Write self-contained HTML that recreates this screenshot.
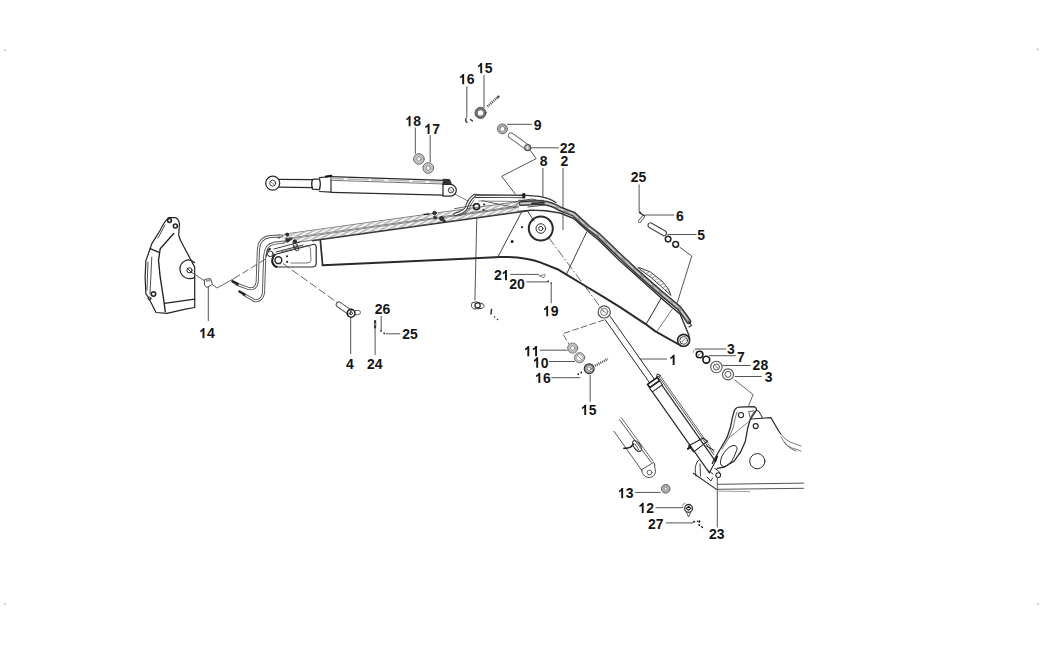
<!DOCTYPE html>
<html><head><meta charset="utf-8"><title>Boom parts diagram</title>
<style>
html,body{margin:0;padding:0;background:#fff;width:1044px;height:655px;overflow:hidden}
svg{position:absolute;left:0;top:0;display:block}
text{font-family:"Liberation Sans",sans-serif;font-weight:bold;font-size:14.5px;fill:#151515}
.d1{fill:#151515;stroke:none}
</style></head><body>
<svg width="1044" height="655" viewBox="0 0 1044 655">
<rect x="0" y="0" width="1044" height="655" fill="#fff"/>

<g fill="#d8d8d8" stroke="none">
<circle cx="5" cy="50" r="1.3"/><circle cx="1037.5" cy="49.5" r="1.3"/>
<circle cx="5" cy="604" r="1.3"/><circle cx="1038" cy="604" r="1.3"/>
</g>

<!-- ===== LABELS ===== -->
<g id="labels">
<path class="d1" d="M480.25 73.30L482.15 73.30L482.15 62.99L480.65 62.99Q480.00 64.81 477.95 65.64L477.95 67.34Q479.40 66.83 480.25 66.05Z"/>
<text x="484.78" y="73.30" transform="translate(484.78 0) scale(0.965 1) translate(-484.78 0)">5</text>
<path class="d1" d="M462.25 84.30L464.15 84.30L464.15 73.99L462.65 73.99Q462.00 75.81 459.95 76.64L459.95 78.34Q461.40 77.83 462.25 77.05Z"/>
<text x="466.78" y="84.30" transform="translate(466.78 0) scale(0.965 1) translate(-466.78 0)">6</text>
<path class="d1" d="M408.65 126.30L410.55 126.30L410.55 115.99L409.05 115.99Q408.40 117.81 406.35 118.64L406.35 120.34Q407.80 119.83 408.65 119.05Z"/>
<text x="413.18" y="126.30" transform="translate(413.18 0) scale(0.965 1) translate(-413.18 0)">8</text>
<path class="d1" d="M427.65 133.95L429.55 133.95L429.55 123.64L428.05 123.64Q427.40 125.46 425.35 126.29L425.35 127.99Q426.80 127.48 427.65 126.70Z"/>
<text x="432.18" y="133.95" transform="translate(432.18 0) scale(0.965 1) translate(-432.18 0)">7</text>
<text x="533.85" y="130.25" transform="translate(533.85 0) scale(0.965 1) translate(-533.85 0)">9</text>
<text x="559.65" y="153.35" transform="translate(559.65 0) scale(0.965 1) translate(-559.65 0)">2</text>
<text x="567.43" y="153.35" transform="translate(567.43 0) scale(0.965 1) translate(-567.43 0)">2</text>
<text x="539.75" y="166.10" transform="translate(539.75 0) scale(0.965 1) translate(-539.75 0)">8</text>
<text x="560.60" y="166.10" transform="translate(560.60 0) scale(0.965 1) translate(-560.60 0)">2</text>
<text x="630.85" y="181.60" transform="translate(630.85 0) scale(0.965 1) translate(-630.85 0)">2</text>
<text x="638.63" y="181.60" transform="translate(638.63 0) scale(0.965 1) translate(-638.63 0)">5</text>
<text x="676.00" y="221.30" transform="translate(676.00 0) scale(0.965 1) translate(-676.00 0)">6</text>
<text x="697.20" y="240.10" transform="translate(697.20 0) scale(0.965 1) translate(-697.20 0)">5</text>
<text x="494.00" y="280.30" transform="translate(494.00 0) scale(0.965 1) translate(-494.00 0)">2</text>
<path class="d1" d="M505.03 280.30L506.93 280.30L506.93 269.99L505.43 269.99Q504.78 271.81 502.73 272.64L502.73 274.34Q504.18 273.83 505.03 273.05Z"/>
<text x="509.20" y="288.85" transform="translate(509.20 0) scale(0.965 1) translate(-509.20 0)">2</text>
<text x="516.98" y="288.85" transform="translate(516.98 0) scale(0.965 1) translate(-516.98 0)">0</text>
<path class="d1" d="M546.25 316.30L548.15 316.30L548.15 305.99L546.65 305.99Q546.00 307.81 543.95 308.64L543.95 310.34Q545.40 309.83 546.25 309.05Z"/>
<text x="550.78" y="316.30" transform="translate(550.78 0) scale(0.965 1) translate(-550.78 0)">9</text>
<path class="d1" d="M202.55 338.30L204.45 338.30L204.45 327.99L202.95 327.99Q202.30 329.81 200.25 330.64L200.25 332.34Q201.70 331.83 202.55 331.05Z"/>
<text x="207.08" y="338.30" transform="translate(207.08 0) scale(0.965 1) translate(-207.08 0)">4</text>
<text x="374.75" y="314.30" transform="translate(374.75 0) scale(0.965 1) translate(-374.75 0)">2</text>
<text x="382.53" y="314.30" transform="translate(382.53 0) scale(0.965 1) translate(-382.53 0)">6</text>
<text x="402.20" y="339.30" transform="translate(402.20 0) scale(0.965 1) translate(-402.20 0)">2</text>
<text x="409.98" y="339.30" transform="translate(409.98 0) scale(0.965 1) translate(-409.98 0)">5</text>
<text x="346.00" y="369.30" transform="translate(346.00 0) scale(0.965 1) translate(-346.00 0)">4</text>
<text x="367.00" y="369.30" transform="translate(367.00 0) scale(0.965 1) translate(-367.00 0)">2</text>
<text x="374.78" y="369.30" transform="translate(374.78 0) scale(0.965 1) translate(-374.78 0)">4</text>
<path class="d1" d="M527.35 356.25L529.25 356.25L529.25 345.94L527.75 345.94Q527.10 347.76 525.05 348.59L525.05 350.29Q526.50 349.78 527.35 349.00Z"/>
<path class="d1" d="M535.13 356.25L537.03 356.25L537.03 345.94L535.53 345.94Q534.88 347.76 532.83 348.59L532.83 350.29Q534.28 349.78 535.13 349.00Z"/>
<path class="d1" d="M536.25 367.65L538.15 367.65L538.15 357.34L536.65 357.34Q536.00 359.16 533.95 359.99L533.95 361.69Q535.40 361.18 536.25 360.40Z"/>
<text x="540.78" y="367.65" transform="translate(540.78 0) scale(0.965 1) translate(-540.78 0)">0</text>
<path class="d1" d="M538.40 382.95L540.30 382.95L540.30 372.64L538.80 372.64Q538.15 374.46 536.10 375.29L536.10 376.99Q537.55 376.48 538.40 375.70Z"/>
<text x="542.93" y="382.95" transform="translate(542.93 0) scale(0.965 1) translate(-542.93 0)">6</text>
<path class="d1" d="M672.70 365.10L674.60 365.10L674.60 354.79L673.10 354.79Q672.45 356.61 670.40 357.44L670.40 359.14Q671.85 358.63 672.70 357.85Z"/>
<text x="727.00" y="354.00" transform="translate(727.00 0) scale(0.965 1) translate(-727.00 0)">3</text>
<text x="736.95" y="362.30" transform="translate(736.95 0) scale(0.965 1) translate(-736.95 0)">7</text>
<text x="752.60" y="370.30" transform="translate(752.60 0) scale(0.965 1) translate(-752.60 0)">2</text>
<text x="760.38" y="370.30" transform="translate(760.38 0) scale(0.965 1) translate(-760.38 0)">8</text>
<text x="764.80" y="381.90" transform="translate(764.80 0) scale(0.965 1) translate(-764.80 0)">3</text>
<path class="d1" d="M584.25 415.00L586.15 415.00L586.15 404.69L584.65 404.69Q584.00 406.51 581.95 407.34L581.95 409.04Q583.40 408.53 584.25 407.75Z"/>
<text x="588.78" y="415.00" transform="translate(588.78 0) scale(0.965 1) translate(-588.78 0)">5</text>
<path class="d1" d="M621.25 498.30L623.15 498.30L623.15 487.99L621.65 487.99Q621.00 489.81 618.95 490.64L618.95 492.34Q620.40 491.83 621.25 491.05Z"/>
<text x="625.78" y="498.30" transform="translate(625.78 0) scale(0.965 1) translate(-625.78 0)">3</text>
<path class="d1" d="M641.75 512.95L643.65 512.95L643.65 502.64L642.15 502.64Q641.50 504.46 639.45 505.29L639.45 506.99Q640.90 506.48 641.75 505.70Z"/>
<text x="646.28" y="512.95" transform="translate(646.28 0) scale(0.965 1) translate(-646.28 0)">2</text>
<text x="648.00" y="529.30" transform="translate(648.00 0) scale(0.965 1) translate(-648.00 0)">2</text>
<text x="655.78" y="529.30" transform="translate(655.78 0) scale(0.965 1) translate(-655.78 0)">7</text>
<text x="709.00" y="539.30" transform="translate(709.00 0) scale(0.965 1) translate(-709.00 0)">2</text>
<text x="716.78" y="539.30" transform="translate(716.78 0) scale(0.965 1) translate(-716.78 0)">3</text>
</g>

<!-- ===== LEADERS ===== -->
<g id="leaders" stroke="#555" stroke-width="1" fill="none">
<path d="M484 75V108"/>
<path d="M466.8 86.5V118"/>
<path d="M415.3 127.5V154"/>
<path d="M430.2 135V162"/>
<path d="M507 124.3H532"/>
<path d="M530.3 147.8H558.8"/>
<path d="M542.9 168V197"/>
<path d="M563 168V230"/>
<path d="M530.3 150.3L536.1 158.7L501.7 176.3L515.2 194"/>
<path d="M639.1 184.4V212"/>
<path d="M644.4 215H674.2"/>
<path d="M667.3 234.5H696.3"/>
<path d="M679.5 247L691.8 256L677 303.5"/>
<path d="M510.2 274.4H539"/>
<path d="M526.3 281.9H547.7"/>
<path d="M551.2 283V303.3"/>
<path d="M477 209.5L474.9 300.5"/>
<path d="M208.3 286V321"/>
<path d="M350.7 318V354"/>
<path d="M375.1 327.6V355"/>
<path d="M381.2 316V330"/>
<path d="M386 333.8H400.4"/>
<path d="M539.8 350.2H567.3"/>
<path d="M549 361.5H575"/>
<path d="M551.3 377.7H580.3"/>
<path d="M590.2 375V401.7"/>
<path d="M639.5 359H667"/>
<path d="M695 349H726.2"/>
<path d="M709 355.7H736"/>
<path d="M722.6 365.5H750.7"/>
<path d="M734.8 376.5H761.7"/>
<path d="M634.9 492.4H660.6"/>
<path d="M655.5 507.7H683.3"/>
<path d="M665.8 522.9H693.6"/>
<path d="M717.3 478V527.4"/>
</g>

<!-- ===== BOOM ===== -->
<g id="boom" stroke="#2a2a2a" stroke-width="1.2" fill="none" stroke-linejoin="round" stroke-linecap="round">
<!-- bottom edge -->
<path d="M322.6 265.3L400 261.8L470 258.4L500 256.9Q525 256.6 540.2 262.4L557.5 269.2L569 276.1L586.2 286.5L603.4 296.8L620 307.2L646 324.3L655 331.1L680.6 345.5" stroke-width="2"/>
<!-- top pipe bundle -->
<path d="M521 203.5L541 202.5Q552 203.5 560 208.9L573.7 214.2L587.5 227L598.5 235.3L620 256L636 271L661 293L679 308L685 316L688.7 321.5" stroke="#333" stroke-width="5.2"/>
<path d="M521 203.5L541 202.5Q552 203.5 560 208.9L573.7 214.2L587.5 227L598.5 235.3L620 256L636 271L661 293L679 308L685 316L688.7 321.5" stroke="#9a9a9a" stroke-width="2.6"/>
<path d="M521 203.5L541 202.5Q552 203.5 560 208.9L573.7 214.2L587.5 227L598.5 235.3L620 256L636 271L661 293L679 308L685 316L688.7 321.5" stroke="#fff" stroke-width="0.8" stroke-dasharray="10 4 5 6" opacity="0.9"/>
<path d="M476 194.8L523 195.1L539 196.4Q549 198 556 202.5" stroke="#333" stroke-width="1.1"/>
<path d="M500 213.8L530.5 210.1L545.8 210.7L560 213L573.7 218.5L587.5 231L598.5 240L620 261L661.2 298.1L680.2 314.3L688.6 334.5L689.6 339" stroke="#333" stroke-width="1.4"/>
<path d="M688.7 321.5L691.5 325.5L689 327" stroke-width="1.1"/>
<!-- hose clamp bump -->
<path d="M638.5 267.5Q645 269.5 650.5 272L662 281L668.5 289L671 295.5L664.5 289.5L651 277.5L640 269.5Z" fill="url(#hatch)" stroke="#444" stroke-width="1"/>
<!-- tip end -->
<path d="M320.3 240L322.6 265" stroke-width="1.7"/>
<!-- section lines -->
<path d="M586.7 232L566.7 273.7" stroke-width="0.9"/>
<path d="M646.1 324.2L661.2 298.1" stroke-width="1"/>
<path d="M657.1 331.1L672.2 309.1" stroke="#555" stroke-width="0.8"/>
<path d="M498.2 256.3L522 211.3" stroke-width="0.9"/>
<!-- foot eye -->
<circle cx="683.6" cy="340.4" r="6" stroke-width="1.6"/>
<circle cx="683.6" cy="340.4" r="3.8" stroke-width="0.9"/>
<path d="M682 342L685 338.5" stroke="#444" stroke-width="0.8"/>
<!-- big boss -->
<circle cx="540.8" cy="228.5" r="12" stroke-width="2"/>
<circle cx="540.8" cy="228.5" r="4.8" stroke-width="1"/>
<circle cx="540.8" cy="228.5" r="2.1" stroke-width="0.9"/>
<path d="M528.1 212L534.2 221.1" stroke-width="0.9"/>
<circle cx="522" cy="227.2" r="1.1" fill="#222" stroke="none"/>
<circle cx="512.1" cy="241.6" r="1.5" fill="#222" stroke="none"/>
</g>
<!-- dash-dot line big boss -> cylinder eye -->
<path d="M549 238L604 312" stroke="#555" stroke-width="0.9" fill="none" stroke-dasharray="9 2 2 2"/>

<!-- hose band on top of boom -->
<defs>
<pattern id="hatch" width="3.4" height="3.4" patternUnits="userSpaceOnUse" patternTransform="rotate(62)">
<line x1="0.8" y1="0" x2="0.8" y2="3.4" stroke="#959595" stroke-width="1"/>
</pattern>
</defs>
<g id="band" fill="none" stroke-linecap="butt">
<path d="M284 236.4L519 203.8" stroke="#777" stroke-width="5.4"/>
<path d="M284 236.4L519 203.8" stroke="#f6f6f6" stroke-width="3.6"/>
<path d="M284 236.4L519 203.8" stroke="url(#hatch)" stroke-width="3.6"/>
<path d="M292 240.8L519 209.3" stroke="#777" stroke-width="5.4"/>
<path d="M292 240.8L519 209.3" stroke="#f6f6f6" stroke-width="3.6"/>
<path d="M292 240.8L519 209.3" stroke="url(#hatch)" stroke-width="3.6"/>
<path d="M312 240.9L530 210.6" stroke="#333" stroke-width="1.1"/>
<path d="M518.3 200.3L544 200.3" stroke="#444" stroke-width="0.9"/>
<path d="M520 201.5L514 207.7" stroke="#555" stroke-width="0.9"/>
</g>

<!-- ===== UPPER CYLINDER ===== -->
<g id="cyl2" stroke="#2a2a2a" stroke-width="1.25" fill="none" stroke-linejoin="round" stroke-linecap="round">
<circle cx="272.7" cy="183.2" r="7" />
<circle cx="272.7" cy="183.2" r="3" stroke-width="0.9"/>
<path d="M270.5 181.5L274.5 185" stroke="#555" stroke-width="0.7"/>
<path d="M278.8 179.4L312.5 179.6M278.8 187.2L312.5 187.6"/>
<path d="M312.5 179.3Q310.8 184 312.5 189.2M319.5 178.9Q321.2 184 319.5 189.6M312.5 179.3L319.5 178.9M312.5 189.2L319.5 189.6" stroke-width="1.3"/>
<path d="M319.5 177.6L331 176.5L331 192.2L319.5 191.5" stroke-width="1.2"/>
<path d="M326 176.4L331.4 175.8" stroke="#111" stroke-width="2"/>
<path d="M331 176.6L444 180.4" stroke-width="1.2"/>
<path d="M331 180.3L444 184" stroke="#666" stroke-width="0.9"/>
<path d="M331 178.5L444 182.2" stroke="#bbb" stroke-width="1.6" stroke-dasharray="12 5 20 4"/>
<path d="M331 192.3L443 195.2" stroke-width="1.2"/>
<path d="M443 183.3L443 195.5"/>
<path d="M443 184.4L450.5 184.4A5.8 5.8 0 0 1 450.5 196L443 196"/>
<circle cx="450.9" cy="190.2" r="2.7" stroke-width="0.9"/>
<path d="M449.5 189L452 191.5" stroke="#555" stroke-width="0.7"/>
<path d="M443.5 179.2L449.5 179.6L451.3 183.5L444 184.3Z" fill="#333" stroke-width="1"/>
<path d="M455.5 194.5L470 202" stroke="#555" stroke-width="0.8"/>
</g>

<!-- arm-side mount with S pipe on top of boom -->
<g id="mount" stroke="#2a2a2a" stroke-width="1.1" fill="none" stroke-linejoin="round" stroke-linecap="round">
<path d="M455 214.5Q463 212.5 466 208.5Q468.5 201 471.5 198L474.5 195.5L477 195.5" stroke="#333" stroke-width="3.4"/>
<path d="M455 214.5Q463 212.5 466 208.5Q468.5 201 471.5 198L474.5 195.5L477 195.5" stroke="#fff" stroke-width="1.3"/>
<path d="M458 216Q466 214 469 209.5Q471 203 474 200" stroke="#555" stroke-width="0.9"/>
<path d="M476 196.3L523 196.6" stroke="#333" stroke-width="3.2"/>
<path d="M476 196.3L523 196.6" stroke="#f4f4f4" stroke-width="1.3"/>
<path d="M482 200.7L515.4 207.6" stroke="#555" stroke-width="0.9"/>
<path d="M454.5 208.7L475 205" stroke="#555" stroke-width="0.9"/>
<circle cx="476.5" cy="206.6" r="3" stroke-width="1.7"/>
<circle cx="484.2" cy="204.5" r="1.1" fill="#222" stroke="none"/>
<circle cx="483.5" cy="210" r="1.1" fill="#222" stroke="none"/>
<path d="M479 201L517 201.5" stroke="#666" stroke-width="0.8"/>
<path d="M523 193.5L525 193.5L525 198L523 198Z" fill="#222" stroke-width="0.8"/>
<path d="M515 202L519 201L532 199L540 201L545 205L528 207" stroke="#444" stroke-width="0.9"/>
<path d="M532 203.5L544 202.5" stroke-width="1.5"/>
<!-- clamps on band -->
<circle cx="434.5" cy="213" r="1.8" fill="#333" stroke="#222" stroke-width="0.8"/>
<circle cx="441.5" cy="218.5" r="2" fill="#333" stroke="#222" stroke-width="0.8"/>
<circle cx="435" cy="217.5" r="1.5" fill="#444" stroke="#222" stroke-width="0.7"/>
<circle cx="444" cy="221" r="1.3" fill="#444" stroke="#222" stroke-width="0.7"/>
<path d="M424 214.5L429 214" stroke-width="1.4"/>
</g>

<!-- ===== ARM END PLATE (left tip) ===== -->
<g id="tip" stroke="#2a2a2a" stroke-width="1.1" fill="none" stroke-linejoin="round" stroke-linecap="round">
<path d="M272.5 261A7 7 0 0 1 276.5 254L313 244.5Q316 244 316.2 247L316.2 263.5Q316 267 312 267L279 267A7 7 0 0 1 272.5 261Z" stroke-width="1.2"/>
<path d="M281 252L305 246Q310 245 310.5 249L311 260Q311 263 307 263L291 263" stroke="#555" stroke-width="0.8"/>
<circle cx="278.4" cy="260.2" r="3.4" stroke-width="1.5"/>
<path d="M274.5 255Q271.5 258 272.3 262.5Q273.5 266 276.5 267" stroke="#222" stroke-width="2"/>
<circle cx="287" cy="256.3" r="1.1" fill="#222" stroke="none"/>
<circle cx="287.2" cy="261.8" r="1.1" fill="#222" stroke="none"/>
<circle cx="270.3" cy="253.8" r="2.8" stroke-width="1"/>
<path d="M266 256Q265 250 270 249" stroke-width="2"/>
<path d="M274 249L300 242M276 252L303 245" stroke-width="0.9"/>
<path d="M294 245L296 251L299 250L297 244" stroke-width="0.8"/>
<circle cx="279" cy="236.5" r="1.6" fill="#333" stroke="#222" stroke-width="0.8"/>
<circle cx="287.2" cy="234.6" r="1.5" fill="#333" stroke="#222" stroke-width="0.8"/>
<circle cx="287.5" cy="240.3" r="1.9" fill="#333" stroke="#222" stroke-width="0.8"/>
<circle cx="290.5" cy="239" r="1.3" fill="#444" stroke="#222" stroke-width="0.6"/>
<circle cx="294.8" cy="241.3" r="1.6" fill="#333" stroke="#222" stroke-width="0.8"/>
<path d="M293.5 243.5L296 243L296.5 247.5L294 248Z" stroke="#333" stroke-width="0.8"/>
</g>

<!-- ===== LEFT HOSES ===== -->
<g id="hoses" fill="none" stroke-linecap="round" stroke-linejoin="round">
<path d="M237 284.2L248.8 288.6Q256 290 257.2 282L258.4 250Q259 238 270 236.5L282 236" stroke="#555" stroke-width="3.1"/>
<path d="M237 284.2L248.8 288.6Q256 290 257.2 282L258.4 250Q259 238 270 236.5L282 236" stroke="#fff" stroke-width="1.2"/>
<path d="M244 294.5L255 300.8Q262 301 263.5 293L264.7 257Q265 245 274 243.3L284 242" stroke="#555" stroke-width="3.1"/>
<path d="M244 294.5L255 300.8Q262 301 263.5 293L264.7 257Q265 245 274 243.3L284 242" stroke="#fff" stroke-width="1.2"/>
<path d="M232.5 281.3L237.5 284" stroke="#222" stroke-width="2.6"/>
<path d="M239.5 291.5L244.5 294.5" stroke="#222" stroke-width="2.6"/>
</g>

<!-- ===== LEFT LINK (part near 14) ===== -->
<g id="link" stroke="#222" stroke-width="1.35" fill="none" stroke-linejoin="round" stroke-linecap="round">
<path d="M168.6 217.6Q164 222 160.2 230.2L151.8 243.6L148.4 253.7L145.9 260.4L145.1 277.2L145.9 294L148.4 297.4L155.2 310.8L156 312.5L166.9 313.4L185.4 309.2L194.7 307.5L194.7 267.1L180.4 240.3L178.7 235.2L179.5 223.4Q178 218 175.3 217.6Z" stroke-width="1.2"/>
<path d="M173.7 233.5L160.2 248.7L158.5 260.4L160.2 277.2L163.6 299L165.3 311.7"/>
<path d="M150.1 248.7L158.5 252.2"/>
<path d="M164.4 303.3L194.7 299.1"/>
<path d="M194.5 262.5Q190 258.8 185.5 260.5Q179.5 263.5 180 270Q181 277 188 278.5Q192 279 194.5 277.5" stroke-width="1.2"/>
<circle cx="189.5" cy="270.3" r="2.6" stroke-width="1"/>
<path d="M187 268L192 273" stroke-width="0.8"/>
<circle cx="175.3" cy="226" r="2" stroke-width="1.5"/>
<circle cx="169.5" cy="220.5" r="1.9" stroke-width="1.5"/>
<circle cx="153.5" cy="294" r="2.2" stroke-width="1.5"/>
<circle cx="149.5" cy="298.5" r="1.5" stroke-width="1"/>
<path d="M151.8 257L150 294M148 262L147 290" stroke-width="0.8"/>
<path d="M165 225L158 238" stroke-width="0.8"/>
</g>
<path d="M283 263.5L338 303" stroke="#555" stroke-width="0.9" fill="none" stroke-dasharray="8 3"/>
<!-- link to 14 to tip line -->
<g stroke="#555" stroke-width="0.9" fill="none">
<path d="M192 272.5L204 280.5"/>
<path d="M212.5 284.8L217.1 288L234 278.5"/>
<path d="M234 278.5L268 257.5" stroke-dasharray="7 3"/>
</g>
<!-- nut 14 -->
<g stroke="#555" stroke-width="1" fill="none">
<path d="M204.5 279.5L210.5 278.5L212.5 284.5L206.5 287.5L204.5 285Z"/>
<path d="M206 281L211 280" stroke="#999" stroke-width="2"/>
</g>

<!-- ===== SMALL PARTS ===== -->
<g id="small" stroke="#333" stroke-width="1.1" fill="none" stroke-linejoin="round" stroke-linecap="round">
<!-- 18, 17 nuts -->
<circle cx="418.9" cy="159" r="3.8" stroke="#c4c4c4" stroke-width="2.4"/>
<circle cx="418.9" cy="159" r="5.3" stroke="#555" stroke-width="0.9"/>
<circle cx="418.9" cy="159" r="2.2" stroke="#666" stroke-width="0.8"/>
<circle cx="428.3" cy="168" r="3.8" stroke="#c4c4c4" stroke-width="2.4"/>
<circle cx="428.3" cy="168" r="5.3" stroke="#555" stroke-width="0.9"/>
<circle cx="428.3" cy="168" r="2.2" stroke="#666" stroke-width="0.8"/>
<!-- 15 washer + bolt -->
<circle cx="480.5" cy="112.9" r="4" stroke="#777" stroke-width="2.6"/>
<circle cx="480.5" cy="112.9" r="5.5" stroke="#333" stroke-width="0.9"/>
<path d="M487.4 106.4L498.4 96.8" stroke="#555" stroke-width="2.6" stroke-dasharray="1.1 0.9" stroke-linecap="butt"/>
<circle cx="498.4" cy="96.8" r="1.2" fill="#444" stroke="none"/>
<!-- 16 clip -->
<path d="M466 118.5Q465 121 467 122.5M470.5 119.5L472.5 121" stroke="#222" stroke-width="1.2"/>
<!-- 9 washer -->
<circle cx="502.5" cy="128.9" r="3.8" stroke="#aaa" stroke-width="2.4"/>
<circle cx="502.5" cy="128.9" r="5" stroke="#666" stroke-width="0.9"/>
<circle cx="502.5" cy="128.9" r="2.5" stroke="#777" stroke-width="0.8"/>
<!-- 22 pin -->
<path d="M511 135.5L527.5 147.6" stroke="#666" stroke-width="6.2"/>
<path d="M511 135.5L527.5 147.6" stroke="#fff" stroke-width="4.4"/>
<circle cx="527.7" cy="147.7" r="3" stroke="#555" stroke-width="1.2"/>
<circle cx="527.7" cy="147.7" r="1.6" stroke="#888" stroke-width="0.8"/>
<!-- 6 small pin -->
<path d="M639.5 221.5L643.5 216.5" stroke="#666" stroke-width="3.2"/>
<path d="M639.5 221.5L643.5 216.5" stroke="#fff" stroke-width="1.4"/>
<circle cx="640" cy="212.6" r="1" fill="#222" stroke="none"/>
<path d="M640 213L644 215.5" stroke="#222" stroke-width="1.2"/>
<!-- 5 pin + rings -->
<path d="M650.5 225.3L664 233.2" stroke="#444" stroke-width="6"/>
<path d="M650.5 225.3L664 233.2" stroke="#fff" stroke-width="3.8"/>
<circle cx="668.1" cy="239.1" r="2.8" stroke="#222" stroke-width="1.5"/>
<circle cx="675.7" cy="244.3" r="2.9" stroke="#222" stroke-width="1.5"/>
<!-- 4 pin -->
<path d="M338.8 304.6L348.5 311.3" stroke="#555" stroke-width="6.2"/>
<path d="M338.8 304.6L348.5 311.3" stroke="#fff" stroke-width="4.2"/>
<circle cx="351.1" cy="313.3" r="3.9" stroke="#222" stroke-width="1.6"/>
<circle cx="351.1" cy="313.3" r="1.4" stroke="#333" stroke-width="0.9"/>
<path d="M354.5 310.5L358.5 310.5A2 2 0 0 1 358.5 314.5L355 315" stroke="#555" stroke-width="0.9"/>
<!-- 24 pin, 26, 25 -->
<path d="M375.1 321L375.1 327.5" stroke="#333" stroke-width="2.2"/>
<path d="M375.1 323.5L375.1 325" stroke="#ddd" stroke-width="0.9"/>
<circle cx="381" cy="330.9" r="0.9" fill="#222" stroke="none"/>
<circle cx="384.2" cy="333.4" r="0.9" fill="#222" stroke="none"/>
<!-- 19 bolt -->
<path d="M472 303Q470 307 474 309L481 308.5Q486 307 483 304L477 302Z" stroke="#444" stroke-width="1"/>
<circle cx="477.6" cy="305.4" r="2.6" stroke="#333" stroke-width="1.3"/>
<path d="M491.5 309.5L491 314" stroke="#333" stroke-width="1.5"/>
<circle cx="494.5" cy="317" r="0.8" fill="#222" stroke="none"/>
<circle cx="497.5" cy="319.5" r="0.8" fill="#222" stroke="none"/>
<!-- 21 pin, 20 dot -->
<path d="M539.5 275.8L545.3 274.5L544 277.3Z" stroke="#777" stroke-width="0.9"/>
<circle cx="548.2" cy="281.4" r="0.9" fill="#222" stroke="none"/>
<circle cx="551.2" cy="283" r="0.8" fill="#222" stroke="none"/>
<!-- 11, 10 rings, 16 clip, 15 washer -->
<circle cx="572.7" cy="348.1" r="3.7" stroke="#bdbdbd" stroke-width="2.4"/>
<circle cx="572.7" cy="348.1" r="5.1" stroke="#666" stroke-width="0.9"/>
<circle cx="572.7" cy="348.1" r="2.1" stroke="#777" stroke-width="0.8"/>
<circle cx="579.6" cy="357.7" r="3.7" stroke="#bdbdbd" stroke-width="2.4"/>
<circle cx="579.6" cy="357.7" r="5.1" stroke="#666" stroke-width="0.9"/>
<path d="M577.5 355.5L581.5 359.8" stroke="#777" stroke-width="0.8"/>
<circle cx="578.2" cy="374.2" r="0.9" fill="#222" stroke="none"/>
<circle cx="581.3" cy="372.5" r="0.9" fill="#222" stroke="none"/>
<circle cx="589.2" cy="368.7" r="3.6" stroke="#999" stroke-width="2"/>
<circle cx="589.2" cy="368.7" r="4.9" stroke="#333" stroke-width="1.2"/>
<circle cx="589.2" cy="368.7" r="1.9" stroke="#555" stroke-width="0.8"/>
<path d="M595 365.8L607.8 358.9" stroke="#555" stroke-width="2.4" stroke-dasharray="1.1 0.9" stroke-linecap="butt"/>
<!-- dashed from cylinder eye to ring 11 -->
<path d="M604 320L562.7 333.7L568.9 344" stroke="#555" stroke-width="0.9" stroke-dasharray="6 3"/>
</g>

<g id="cyl1" stroke="#2a2a2a" stroke-width="1.1" fill="none" stroke-linejoin="round" stroke-linecap="round">
<circle cx="604.2" cy="311.9" r="6.1" stroke="#555" stroke-width="1.2"/>
<circle cx="604.2" cy="311.9" r="3.6" stroke="#666" stroke-width="0.9"/>
<path d="M602 310L606.5 313.5" stroke="#666" stroke-width="0.8"/>
<path d="M605.3 319.9L649.6 382.8" stroke-width="1"/>
<path d="M610.2 316.4L654.5 379.4" stroke-width="1"/>
<path d="M647.5 384.3L657.3 377.4L659.6 380.7L649.8 387.6Z" stroke="#111" stroke-width="1.6"/>
<path d="M649.4 387.8L659.6 380.7L662.5 384.7L652.3 391.9Z" stroke-width="1.1"/>
<path d="M652.4 391.8L709.4 472.8" stroke-width="1.2"/>
<path d="M661.9 385.1L715.4 461.2" stroke-width="1.2"/>
<path d="M658.7 376.4L713.9 454.9" stroke="#444" stroke-width="0.9"/>
<path d="M660.0 375.5L714.1 452.4" stroke="#555" stroke-width="0.9"/>
<path d="M656.7 376.6L657.2 373.8L660.2 375.4Z" stroke="#333" stroke-width="1"/>
<path d="M688.4 446.0L703.1 438.1L707.6 441.1L693.8 451.9Z" stroke="#222" stroke-width="1.1"/>
<path d="M687.9 448.8L690.4 447.0" stroke="#111" stroke-width="2"/>
<path d="M706.0 445.8L713.9 450.1" stroke="#333" stroke-width="1"/>
<path d="M709.4 472.8L715.4 461.2" stroke-width="1.1"/>
<path d="M715.4 461.2L717.1 456.4" stroke="#111" stroke-width="1.8"/>
</g>

<!-- ===== LOWER ARM CYLINDER (cut) ===== -->
<g id="cyl3" stroke="#555" stroke-width="1" fill="none" stroke-linejoin="round" stroke-linecap="round">
<path d="M614 431.3L642.1 470.9"/>
<path d="M619.5 419.7L651.3 462.4"/>
<path d="M621.4 417.8L653.1 461.2" stroke="#555" stroke-width="0.9"/>
<path d="M623.8 448.3Q628 448.5 630.5 447.1L633.6 444.1" stroke="#222" stroke-width="1.6"/>
<ellipse cx="637" cy="446" rx="3.2" ry="6.2" transform="rotate(-36 637 446)" stroke="#333" stroke-width="1.1"/>
<path d="M635 444L639 450M634.5 448.5L638 452" stroke="#444" stroke-width="0.9"/>
<path d="M641.5 469.7L653.7 462.4L655 465"/>
<path d="M641.5 469.7Q642 476 648 477.5Q654 478 655.5 472L654.5 465"/>
<circle cx="649.5" cy="472.5" r="2.4" stroke-width="0.9"/>
</g>

<!-- ===== BASE BRACKET / FRAME ===== -->
<g id="base" stroke="#2a2a2a" stroke-width="1.1" fill="none" stroke-linejoin="round" stroke-linecap="round">
<path d="M734.3 410.9Q735.5 407.5 739.2 407.2L753.8 406.6Q757 407.5 756.3 410.3L750.2 419.4L747.7 428L745.3 441.4L740.4 452.4L734.3 460.9L724.5 467L717.2 468.3" stroke-width="1.3"/>
<path d="M734.3 410.9L732.5 417L730.6 426.7L727 437.7L719.7 450L714.8 458.5L712.3 463.4" stroke-width="1.3"/>
<path d="M737 412L735.5 417L733.1 428L728.2 439L722 449" stroke="#555" stroke-width="0.8"/>
<circle cx="741" cy="415.1" r="2.6" stroke-width="1.1"/>
<path d="M749 411.5L754.5 411L750.5 417.5Z" stroke="#555" stroke-width="0.9"/>
<path d="M751.4 419.4L729.4 437.7" stroke="#666" stroke-width="0.8"/>
<path d="M722 456Q727 447 733 445.5Q737.5 445 737 449.5L734 457Q730 465 724.5 466.5Q719.5 466.5 720.5 461Z" stroke-width="1"/>
<!-- frame plate -->
<path d="M750.5 419L758.7 418.5L770.9 417.6L778.3 430.4L780.7 434"/>
<path d="M756.3 410.3L758.7 410.9L762.4 417.6" stroke-width="1"/>
<circle cx="755.7" cy="426.1" r="2.5" stroke-width="1.2"/>
<circle cx="757.3" cy="461.2" r="7.6" stroke-width="1"/>
<path d="M780.7 434Q785 440 790 442L801 446M781 437Q786 446 792 448L801 451M784 442Q789 449 796 451" stroke="#555" stroke-width="0.8"/>
<!-- rails -->
<path d="M717.6 484.3L803.8 483.1M717.6 489.3L803.8 488.3" stroke="#555" stroke-width="1"/>
<path d="M717.6 491.1L750 491.6" stroke="#888" stroke-width="0.8"/>
<path d="M693.4 473.3L716.4 489.4"/>
<circle cx="718.2" cy="475.1" r="2.4" stroke-width="1.1"/>
<path d="M714.8 468.5L718 470.5L720 473" stroke-width="1"/>
<path d="M696 476Q694 468 697 462L699 460M700.5 476L700 464" stroke-width="0.9"/>
<path d="M707 477L711 481L712.5 478M709 471L713 474" stroke="#333" stroke-width="1"/>
</g>
<!-- leader from ring 3 to bracket -->
<path d="M734.8 380L753.1 394.6L748.5 406.1" stroke="#555" stroke-width="0.9" fill="none"/>

<!-- ===== RINGS 3 7 28 3 ===== -->
<g id="rings" fill="none">
<path d="M693.5 352.5Q693 349.2 697 349.2L700.5 349.5" stroke="#999" stroke-width="1"/>
<circle cx="699.6" cy="354.5" r="3.3" stroke="#111" stroke-width="1.6"/>
<path d="M698 355.5L700.5 353.5" stroke="#333" stroke-width="0.8"/>
<circle cx="706.3" cy="359.7" r="3.4" stroke="#111" stroke-width="1.6"/>
<circle cx="716.4" cy="367" r="5.7" stroke="#555" stroke-width="1.1"/>
<circle cx="716.4" cy="367" r="3" stroke="#555" stroke-width="1"/>
<path d="M715 365.5L718 368.5" stroke="#444" stroke-width="0.9"/>
<circle cx="728" cy="374.4" r="5.5" stroke="#555" stroke-width="1.1"/>
<circle cx="728" cy="374.4" r="3" stroke="#555" stroke-width="1"/>
</g>

<!-- ===== 13 12 27 ===== -->
<g id="bparts" fill="none" stroke-linejoin="round">
<circle cx="665.7" cy="488.8" r="3.2" stroke="#aaa" stroke-width="2.2"/>
<circle cx="665.7" cy="488.8" r="4.3" stroke="#555" stroke-width="0.9"/>
<circle cx="665.7" cy="488.8" r="1.6" stroke="#666" stroke-width="0.8"/>
<circle cx="688.6" cy="508.4" r="3.9" stroke="#333" stroke-width="1.3"/>
<path d="M686.3 508.3L688.6 506.3L690.9 508.3L688.6 510.3Z" stroke="#222" stroke-width="1.1"/>
<path d="M686.2 512L688.6 516.8L691 512" stroke="#444" stroke-width="0.9"/>
<path d="M682.6 506.5Q682.8 503.5 685.6 503" stroke="#777" stroke-width="0.9"/>
<path d="M694 521.6L699.3 521.3L699.3 525L702.4 527.4" stroke="#222" stroke-width="1.3" stroke-dasharray="1.2 1.6"/>
<circle cx="694" cy="521.6" r="0.9" fill="#111" stroke="none"/>
<circle cx="699.3" cy="521.3" r="1" fill="#111" stroke="none"/>
<circle cx="699.3" cy="525" r="0.9" fill="#111" stroke="none"/>
<circle cx="702.4" cy="527.4" r="0.8" fill="#222" stroke="none"/>
</g>

</svg>
</body></html>
